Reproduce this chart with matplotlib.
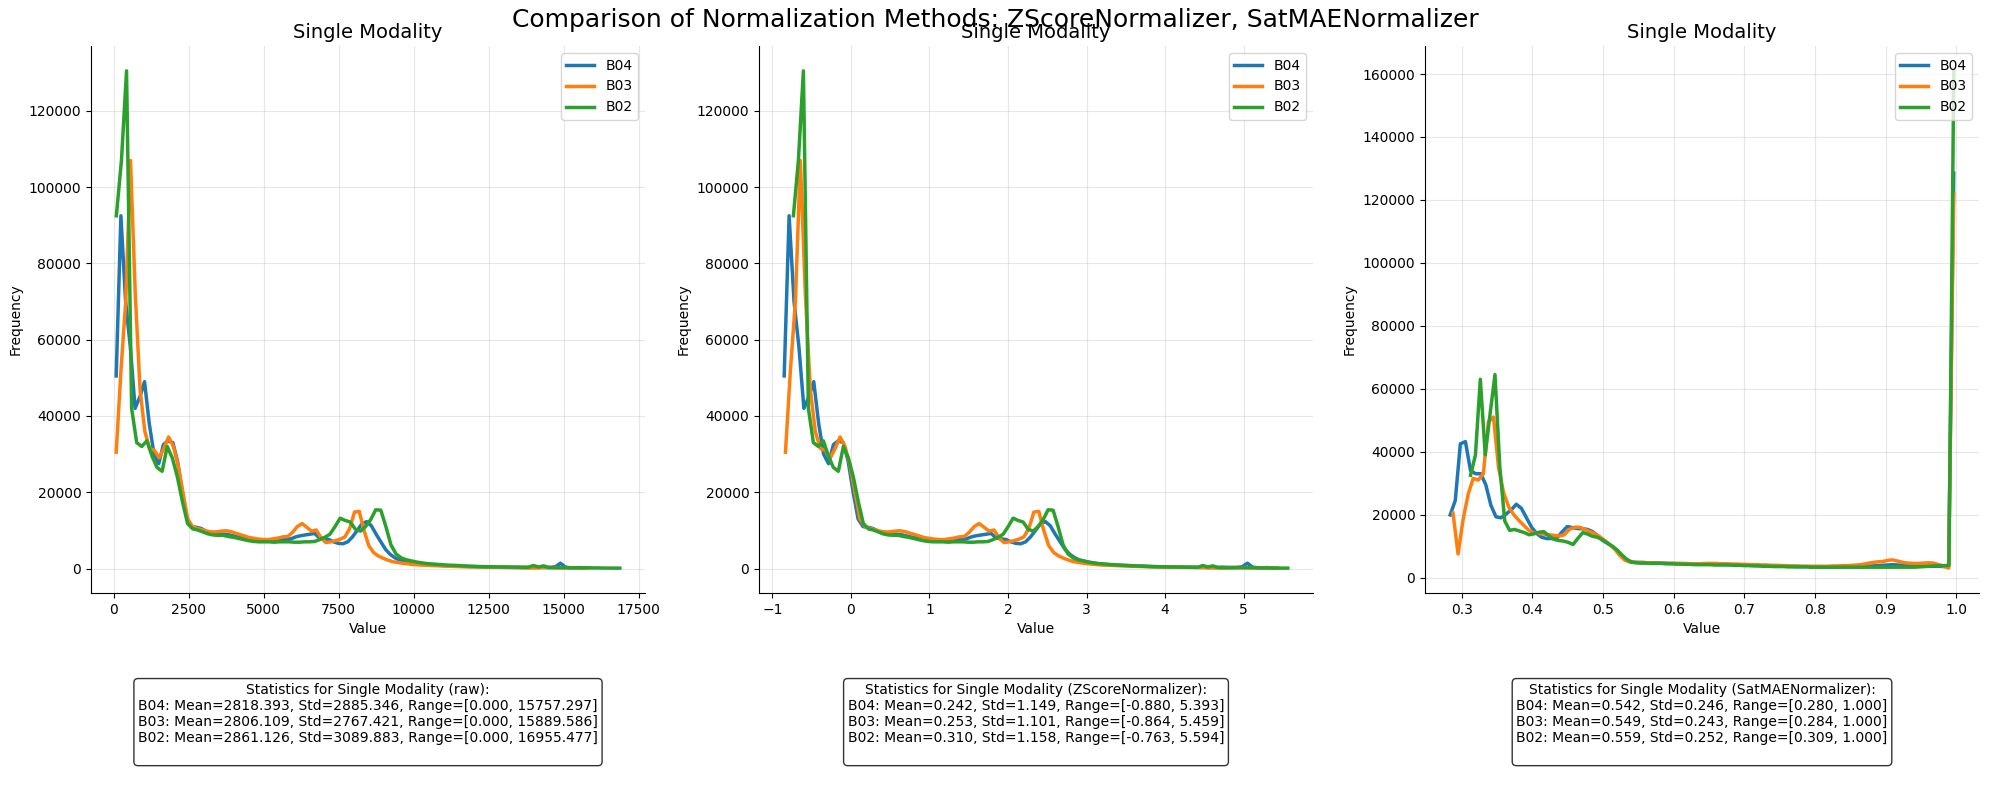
import numpy as np
import matplotlib
matplotlib.use("Agg")
import matplotlib.pyplot as plt

# ---------------- data ----------------
bands = ["B04", "B03", "B02"]
colors = ["#1f77b4", "#ff7f0e", "#2ca02c"]
n_bins = 100

# value ranges (min, max) per band, as reported in the stats boxes
raw_ranges = {"B04": (0.000, 15757.297), "B03": (0.000, 15889.586), "B02": (0.000, 16955.477)}
z_ranges = {"B04": (-0.880, 5.393), "B03": (-0.864, 5.459), "B02": (-0.763, 5.594)}
sat_ranges = {"B04": (0.280, 1.000), "B03": (0.284, 1.000), "B02": (0.309, 1.000)}

# histogram counts (thousands) of raw values; z-score is linear so counts are the same
raw_B04 = [50.5, 92.5, 70, 58, 42, 45, 49, 38, 30, 27.5,
           32.5, 33.5, 33, 28, 20, 13, 11, 10.8, 10.5, 9.8,
           9.2, 9.0, 9.0, 9.0, 8.8, 8.5, 8.2, 8.0, 7.8, 7.6,
           7.5, 7.4, 7.4, 7.3, 7.3, 7.5, 7.6, 7.8, 8.3, 8.6,
           8.8, 9.0, 9.2, 8.0, 7.8, 7.6, 7.0, 6.6, 6.5, 7.0,
           8.3, 10.0, 11.7, 12.3, 11.2, 9.0, 7.0, 5.0, 3.7, 2.8,
           2.2, 1.9, 1.6, 1.4, 1.2, 1.1, 1.0, 0.9, 0.85, 0.8,
           0.75, 0.7, 0.65, 0.6, 0.55, 0.5, 0.48, 0.45, 0.42, 0.4,
           0.38, 0.36, 0.34, 0.32, 0.3, 0.3, 0.28, 0.28, 0.3, 0.35,
           0.3, 0.25, 0.3, 0.5, 1.4, 0.4, 0.2, 0.2, 0.25, 0.15]
raw_B03 = [30.5, 52, 70, 107, 72, 47, 36, 31.5, 31, 29,
           31.5, 34.5, 32, 27, 20, 13, 11, 10.5, 10.2, 9.8,
           9.6, 9.6, 9.8, 9.9, 9.7, 9.3, 8.9, 8.5, 8.1, 7.9,
           7.7, 7.6, 7.6, 7.8, 8.0, 8.3, 8.4, 9.5, 11.0, 11.8,
           10.8, 9.8, 10.1, 8.0, 6.8, 7.0, 7.3, 7.7, 8.3, 10.5,
           14.8, 15.0, 10.0, 6.0, 4.2, 3.3, 2.7, 2.2, 1.8, 1.6,
           1.4, 1.25, 1.1, 1.0, 0.9, 0.85, 0.8, 0.75, 0.7, 0.65,
           0.6, 0.55, 0.5, 0.48, 0.45, 0.42, 0.4, 0.38, 0.36, 0.34,
           0.32, 0.3, 0.3, 0.28, 0.26, 0.2, 0.15, 0.15, 0.12, 0.2,
           0.3, 0.3, 0.25, 0.2, 0.2, 0.2, 0.2, 0.2, 0.15, 0.15]
raw_B02 = [92.5, 107, 130.5, 42, 33, 32, 33.5, 29.5, 26.5, 25.5,
           32, 29, 24, 17.5, 11.8, 10.4, 10.1, 9.6, 9.1, 8.8,
           8.7, 8.7, 8.4, 8.2, 7.9, 7.6, 7.3, 7.1, 7.0, 7.0,
           7.0, 6.9, 7.0, 7.0, 7.0, 6.9, 6.9, 7.0, 7.0, 7.1,
           7.6, 8.2, 9.0, 11.0, 13.2, 12.6, 12.2, 10.3, 9.8, 11.0,
           12.8, 15.4, 15.3, 11.0, 6.2, 3.8, 2.8, 2.3, 2.0, 1.7,
           1.5, 1.3, 1.2, 1.1, 1.0, 0.9, 0.85, 0.8, 0.7, 0.65,
           0.6, 0.55, 0.5, 0.47, 0.45, 0.42, 0.4, 0.38, 0.36, 0.35,
           0.34, 0.33, 0.8, 0.4, 0.7, 0.25, 0.2, 0.2, 0.2, 0.2,
           0.2, 0.2, 0.2, 0.18, 0.15, 0.15, 0.12, 0.12, 0.1, 0.1]

# histogram counts (thousands) after SatMAE normalization
sat_B04 = [19.9, 24.5, 42.5, 43.2, 34, 33, 33, 29.5, 23, 19.3,
           19, 20.2, 21.5, 23.3, 22, 19, 16, 14, 12.8, 12.4,
           12.4, 12.6, 14.5, 16.2, 15.9, 15.6, 15.5, 15.3, 14.6, 13.3,
           11.8, 10.8, 9.8, 8.3, 6.5, 5.3, 4.9, 4.8, 4.8, 4.7,
           4.7, 4.6, 4.6, 4.5, 4.5, 4.4, 4.4, 4.3, 4.3, 4.3,
           4.3, 4.3, 4.2, 4.2, 4.2, 4.1, 4.1, 4.0, 4.0, 3.9,
           3.9, 3.8, 3.8, 3.7, 3.7, 3.7, 3.6, 3.6, 3.5, 3.5,
           3.5, 3.4, 3.4, 3.4, 3.4, 3.4, 3.4, 3.4, 3.5, 3.5,
           3.5, 3.5, 3.6, 3.7, 3.8, 3.9, 4.0, 4.1, 4.0, 3.9,
           3.8, 3.7, 3.7, 3.7, 3.6, 3.6, 3.6, 3.5, 3.5, 128.5]
sat_B03 = [20.5, 7.5, 18.5, 26.5, 31.5, 31, 33, 49.5, 51, 35,
           27, 22.5, 20, 18.2, 16.6, 15, 14.2, 14, 13.8, 13.6,
           13.4, 13.2, 13.6, 15.3, 16, 16, 15.4, 14.6, 14, 13,
           11.8, 10.5, 9, 7, 5.5, 4.9, 4.8, 4.8, 4.7, 4.7,
           4.6, 4.6, 4.5, 4.5, 4.5, 4.5, 4.5, 4.4, 4.4, 4.4,
           4.5, 4.5, 4.5, 4.4, 4.4, 4.3, 4.3, 4.2, 4.2, 4.1,
           4.1, 4.0, 4.0, 3.9, 3.9, 3.8, 3.8, 3.7, 3.7, 3.6,
           3.6, 3.6, 3.6, 3.6, 3.6, 3.7, 3.7, 3.8, 3.8, 3.9,
           4.0, 4.2, 4.5, 4.8, 5.0, 5.1, 5.5, 5.6, 5.2, 4.8,
           4.6, 4.5, 4.5, 4.6, 4.7, 4.6, 4.1, 3.6, 3.0, 122]
sat_B02 = [32.5, 39, 63, 39, 52, 64.5, 35, 18, 15, 15.3,
           14.8, 14.3, 13.6, 13.9, 14.4, 14.6, 13.3, 12.2, 11.8, 11.6,
           11.2, 10.5, 12.5, 14.3, 13.8, 13.1, 12.8, 12, 11, 10,
           8.8, 7.2, 5.8, 4.9, 4.7, 4.6, 4.6, 4.5, 4.5, 4.5,
           4.4, 4.4, 4.3, 4.3, 4.2, 4.2, 4.1, 4.1, 4.1, 4.1,
           4.0, 4.0, 4.0, 4.0, 3.9, 3.9, 3.8, 3.8, 3.7, 3.7,
           3.6, 3.6, 3.5, 3.5, 3.5, 3.4, 3.4, 3.4, 3.4, 3.4,
           3.3, 3.3, 3.3, 3.3, 3.3, 3.3, 3.3, 3.3, 3.3, 3.3,
           3.3, 3.3, 3.3, 3.3, 3.3, 3.3, 3.3, 3.3, 3.3, 3.3,
           3.3, 3.3, 3.4, 3.5, 3.6, 3.7, 3.8, 3.8, 3.9, 161]

raw_counts = {"B04": raw_B04, "B03": raw_B03, "B02": raw_B02}
sat_counts = {"B04": sat_B04, "B03": sat_B03, "B02": sat_B02}

stats_raw = ("Statistics for Single Modality (raw):\n"
             "B04: Mean=2818.393, Std=2885.346, Range=[0.000, 15757.297]\n"
             "B03: Mean=2806.109, Std=2767.421, Range=[0.000, 15889.586]\n"
             "B02: Mean=2861.126, Std=3089.883, Range=[0.000, 16955.477]\n")
stats_z = ("Statistics for Single Modality (ZScoreNormalizer):\n"
           "B04: Mean=0.242, Std=1.149, Range=[-0.880, 5.393]\n"
           "B03: Mean=0.253, Std=1.101, Range=[-0.864, 5.459]\n"
           "B02: Mean=0.310, Std=1.158, Range=[-0.763, 5.594]\n")
stats_sat = ("Statistics for Single Modality (SatMAENormalizer):\n"
             "B04: Mean=0.542, Std=0.246, Range=[0.280, 1.000]\n"
             "B03: Mean=0.549, Std=0.243, Range=[0.284, 1.000]\n"
             "B02: Mean=0.559, Std=0.252, Range=[0.309, 1.000]\n")


def bin_centers(lo, hi, n):
    edges = np.linspace(lo, hi, n + 1)
    return (edges[:-1] + edges[1:]) / 2


# ---------------- figure ----------------
W, H = 1990, 801
fig = plt.figure(figsize=(W / 100, H / 100), dpi=100)

ax_left_px = [91, 759, 1425]
ax_w_px = 554
ax_top_px, ax_bot_px = 46, 593
axes = []
for lp in ax_left_px:
    axes.append(fig.add_axes([lp / W, 1 - ax_bot_px / H, ax_w_px / W,
                              (ax_bot_px - ax_top_px) / H]))

panels = [
    (raw_ranges, raw_counts, stats_raw),
    (z_ranges, raw_counts, stats_z),
    (sat_ranges, sat_counts, stats_sat),
]

for ax, (ranges, counts, stats) in zip(axes, panels):
    for band, c in zip(bands, colors):
        lo, hi = ranges[band]
        x = bin_centers(lo, hi, n_bins)
        y = np.array(counts[band]) * 1000
        ax.plot(x, y, color=c, linewidth=2.5, label=band)
    ax.set_title("Single Modality", fontsize=14)
    ax.set_xlabel("Value", fontsize=10)
    ax.set_ylabel("Frequency", fontsize=10)
    ax.grid(True, alpha=0.3)
    ax.spines["top"].set_visible(False)
    ax.spines["right"].set_visible(False)
    ax.legend(loc="upper right", fontsize=10)
    ax.text(0.5, -0.164, stats, transform=ax.transAxes, ha="center", va="top",
            fontsize=10, multialignment="center",
            bbox=dict(boxstyle="round", facecolor="white", alpha=0.8))

fig.suptitle("Comparison of Normalization Methods: ZScoreNormalizer, SatMAENormalizer",
             fontsize=18, y=0.99, va="top")

fig.savefig("out.png", dpi=100)
